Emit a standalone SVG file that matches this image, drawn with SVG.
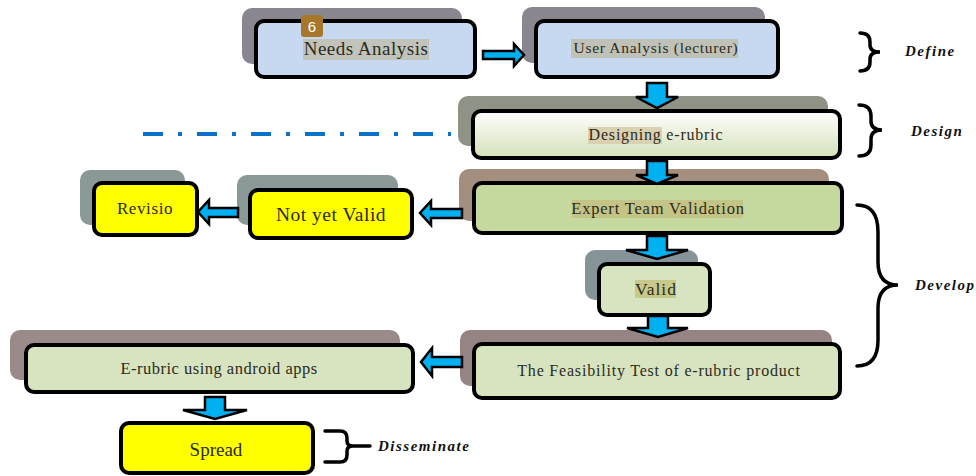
<svg xmlns="http://www.w3.org/2000/svg" width="976" height="476" viewBox="0 0 976 476">
<style>
.box{stroke:#000;stroke-width:4}
.t{font-family:"Liberation Serif","Times New Roman",serif;fill:#2b2b20;text-anchor:middle}
.lbl{font-family:"Liberation Serif","Times New Roman",serif;font-weight:bold;font-style:italic;font-size:15px;letter-spacing:1.5px;fill:#111}
.arr{fill:#00b0f0;stroke:#000;stroke-width:2.5;stroke-linejoin:miter}
.brace{fill:none;stroke:#000;stroke-width:3.5;stroke-linecap:round}
</style>
<defs>
<linearGradient id="gDes" x1="0" y1="0" x2="0" y2="1">
<stop offset="0" stop-color="#ffffff"/>
<stop offset="1" stop-color="#d4e0b8"/>
</linearGradient>
</defs>
<rect width="976" height="476" fill="#fff"/>

<g id="needs">
<rect x="242" y="8" width="220" height="56" rx="10" fill="#8a8690"/>
<rect class="box" x="256" y="21" width="219" height="56" rx="8" fill="#c6d9f0"/>
<rect x="303" y="39" width="126" height="21" fill="#c2c4bc"/>
<text class="t" x="366" y="55" font-size="19" letter-spacing="0.5">Needs Analysis</text>
<rect x="301" y="15" width="22" height="22" rx="3" fill="#a8782a"/>
<text x="312" y="32" font-family="Liberation Sans, Arial, sans-serif" font-size="15" fill="#fff" text-anchor="middle">6</text>
</g>

<g id="user">
<rect x="522" y="7" width="243" height="56" rx="10" fill="#8a8690"/>
<rect class="box" x="536" y="21" width="242" height="56" rx="8" fill="#c6d9f0"/>
<rect x="571" y="39" width="167" height="19" fill="#c0c2b8"/>
<text class="t" x="656" y="53" font-size="15.5" letter-spacing="0.7">User Analysis (lecturer)</text>
</g>

<g id="designing">
<rect x="458" y="96" width="370" height="50" rx="10" fill="#8f9385"/>
<rect class="box" x="473" y="111" width="367" height="47" rx="8" fill="url(#gDes)"/>
<rect x="588" y="127" width="74" height="17" fill="#d9d1b0"/>
<text class="t" x="656" y="140" font-size="16" letter-spacing="0.8">Designing e-rubric</text>
</g>

<g id="expert">
<rect x="459" y="169" width="370" height="52" rx="10" fill="#a48e7e"/>
<rect class="box" x="474" y="183" width="368" height="50" rx="8" fill="#c5d89d"/>
<rect x="572" y="200" width="171" height="18" fill="#c4c486"/>
<text class="t" x="658" y="214" font-size="16.5" letter-spacing="0.8">Expert Team Validation</text>
</g>

<g id="notvalid">
<rect x="237" y="175" width="161" height="50" rx="10" fill="#8a9898"/>
<rect class="box" x="250" y="190" width="162" height="48" rx="8" fill="#ffff00"/>
<text class="t" x="331" y="221" font-size="19.5" letter-spacing="0.5">Not yet Valid</text>
</g>

<g id="revisio">
<rect x="80" y="170" width="105" height="55" rx="10" fill="#8a9898"/>
<rect class="box" x="94" y="183" width="103" height="52" rx="8" fill="#ffff00"/>
<text class="t" x="145" y="214" font-size="17" letter-spacing="0.6">Revisio</text>
</g>

<g id="valid">
<rect x="585" y="250" width="113" height="50" rx="10" fill="#86949a"/>
<rect class="box" x="599" y="264" width="111" height="51" rx="8" fill="#d8e4c0"/>
<rect x="635" y="280" width="41" height="18" fill="#c8c88a"/>
<text class="t" x="656" y="295" font-size="17.5" letter-spacing="1">Valid</text>
</g>

<g id="feasibility">
<rect x="460" y="330" width="372" height="56" rx="10" fill="#968484"/>
<rect class="box" x="474" y="344" width="366" height="54" rx="8" fill="#d8e4c0"/>
<text class="t" x="659" y="376" font-size="16" letter-spacing="0.8">The Feasibility Test of e-rubric product</text>
</g>

<g id="erubric">
<rect x="10" y="330" width="390" height="50" rx="10" fill="#9a8a8a"/>
<rect class="box" x="26" y="345" width="387" height="47" rx="8" fill="#d8e4c0"/>
<text class="t" x="219" y="374" font-size="16.5" letter-spacing="0.5">E-rubric using android apps</text>
</g>

<g id="spread">
<rect class="box" x="121" y="423" width="192" height="50" rx="8" fill="#ffff00"/>
<text class="t" x="216" y="456" font-size="19">Spread</text>
</g>

<g id="dashline">
<line x1="143" y1="134" x2="451" y2="134" stroke="#0a72c8" stroke-width="4" stroke-dasharray="20 15 4 15"/>
</g>

<g id="connectors">
<polygon class="arr" points="483,51 514,51 514,44 524,55 514,66 514,59 483,59"/>
<polygon class="arr" points="647,83 667,83 667,97 678,97 657,108 636,97 647,97"/>
<polygon class="arr" points="647,161 667,161 667,175 678,175 657,184 636,175 647,175"/>
<polygon class="arr" points="647,236 667,236 667,250 688,250 657,259 626,250 647,250"/>
<polygon class="arr" points="648,316 668,316 668,328 688,328 658,337 627,328 648,328"/>
<polygon class="arr" points="462,357 432,357 432,348 421,362 432,376 432,367 462,367"/>
<polygon class="arr" points="462,209 431,209 431,201 420,213 431,225 431,218 462,218"/>
<polygon class="arr" points="238,208 209,208 209,200 198,212 209,224 209,217 238,217"/>
<polygon class="arr" points="205,397 225,397 225,410 247,410 215,419 183,410 205,410"/>
</g>

<g id="braces">
<path class="brace" d="M860,33 Q870,33 870,42 L870,45 Q870,52 880,52 Q870,52 870,59 L870,62 Q870,71 860,71"/>
<path class="brace" d="M859,105 Q871,105 871,116 L871,121 Q871,130 882,130 Q871,130 871,139 L871,145 Q871,156 859,156"/>
<path class="brace" d="M857,205 Q878,205 878,232 L878,262 Q878,285 898,285 Q878,285 878,308 L878,340 Q878,366 857,366"/>
<path class="brace" d="M325,431 L340,431 Q347,431 347,438 L347,441 Q347,446 353,446 L370,446 M353,446 Q347,446 347,451 L347,455 Q347,462 340,462 L325,462"/>
</g>

<g id="labels">
<text class="lbl" x="905" y="56">Define</text>
<text class="lbl" x="911" y="136">Design</text>
<text class="lbl" x="915" y="290">Develop</text>
<text class="lbl" x="378" y="451">Disseminate</text>
</g>
</svg>
